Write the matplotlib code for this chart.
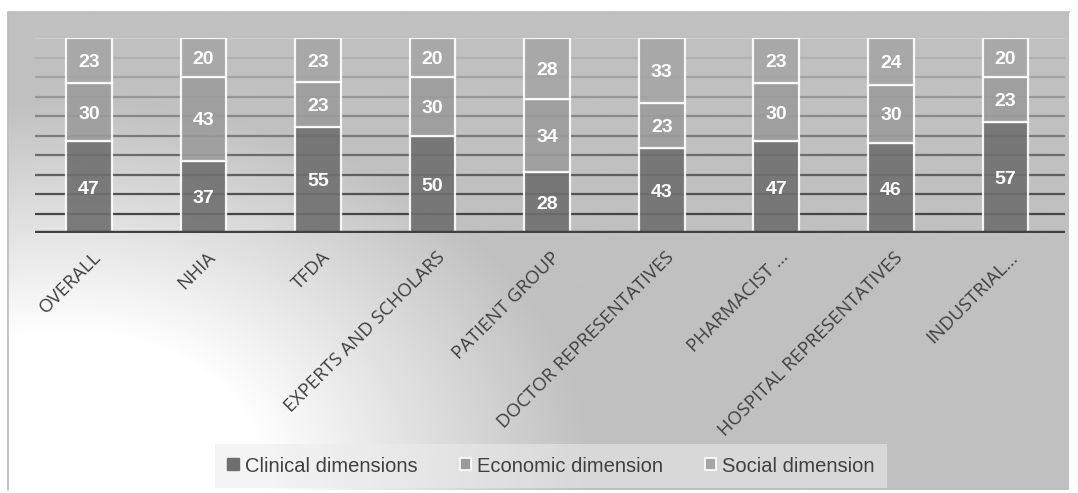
import numpy as np
import matplotlib.pyplot as plt
import matplotlib.transforms as mtransforms
from matplotlib.patches import Patch

# data (raw labels, bars are drawn as 100% stacked)
groups = ["OVERALL", "NHIA", "TFDA", "EXPERTS AND SCHOLARS", "PATIENT GROUP",
          "DOCTOR REPRESENTATIVES", "PHARMACIST ...", "HOSPITAL REPRESENTATIVES",
          "INDUSTRIAL..."]
clinical = [47, 37, 55, 50, 28, 43, 47, 46, 57]
economic = [30, 43, 23, 30, 34, 23, 30, 30, 23]
social = [23, 20, 23, 20, 28, 33, 23, 24, 20]
series_names = ["Clinical dimensions", "Economic dimension", "Social dimension"]
colores = ["#6f6f6f", "#9c9c9c", "#a6a6a6"]

W, H = 1078, 493
fig = plt.figure(figsize=(W / 100, H / 100), dpi=100)

# background: white figure, chart area with a soft radial gradient
bg = fig.add_axes([0, 0, 1, 1], zorder=-10)
bg.set_xlim(0, W)
bg.set_ylim(H, 0)
bg.axis("off")
yy, xx = np.mgrid[0:H, 0:W]
d = np.sqrt(((xx - 60) / 560.0) ** 2 + ((yy - 470) / 400.0) ** 2)
t = np.clip((d - 0.35) / 0.6, 0, 1)
val = 1.0 - t * (1.0 - 0xc0 / 255.0)
img = np.dstack([val, val, val])
bg.imshow(img, extent=(8, 1069, 490, 12), aspect="auto", interpolation="bilinear")
bg.plot([8, 8, 1069], [490, 12, 12], color="#bdbdbd", lw=1.2)

ax = fig.add_axes([35 / W, (H - 233) / H, (1065 - 35) / W, (233 - 38) / H])
ax.set_facecolor("none")
x = np.arange(len(groups))
ax.set_xlim(-0.47, 8.52)
ax.set_ylim(0, 100)

# gridlines, darker near the base
for k, g in enumerate(range(10, 101, 10)):
    c = 0.27 + 0.42 * (k / 8.0)
    if g == 100:
        c = 0.80
    ax.axhline(g, color=(c, c, c), lw=1.6, zorder=1)

data = np.array([clinical, economic, social], dtype=float)
pct = data / data.sum(axis=0) * 100

bottoms = np.zeros(len(groups))
for vals, heights, col, name in zip(data, pct, colores, series_names):
    ax.bar(x, heights, width=0.4, bottom=bottoms, color=col, edgecolor="white",
           linewidth=1.6, alpha=0.9, zorder=2, label=name)
    for xi, b, h, v in zip(x, bottoms, heights, vals):
        ax.text(xi, b + h / 2 - 1, str(int(v)), ha="center", va="center", color="white",
                fontsize=14, fontweight="bold", family="Liberation Sans", zorder=4)
    bottoms = bottoms + heights

ax.axhline(0, color="#404040", lw=3.2, zorder=3)

for s in ax.spines.values():
    s.set_visible(False)
ax.set_yticks([])
ax.set_xticks(x)
ax.set_xticklabels(groups, rotation=45, ha="right", va="top", rotation_mode="anchor",
                   fontsize=13.5, color="#404040", family="Open Sans")
ax.tick_params(axis="x", length=0, pad=11)
shift = mtransforms.ScaledTranslation(3 / 100, 0, fig.dpi_scale_trans)
for lab in ax.get_xticklabels():
    lab.set_transform(lab.get_transform() + shift)

handles = [Patch(facecolor=colores[0], edgecolor=colores[0]),
           Patch(facecolor=colores[1], edgecolor="white", linewidth=1.2),
           Patch(facecolor=colores[2], edgecolor="white", linewidth=1.2)]
leg = fig.legend(handles, series_names, loc="center", bbox_to_anchor=(551 / W, 1 - 466 / H),
                 ncol=3, frameon=True, fancybox=False, handlelength=0.55, handleheight=0.55,
                 handletextpad=0.3, columnspacing=2.1, borderpad=0.6, borderaxespad=0,
                 prop={"family": "Liberation Sans", "size": 14.5})
leg.get_frame().set_facecolor("#ececec")
leg.get_frame().set_alpha(0.55)
leg.get_frame().set_edgecolor("none")
for tx in leg.get_texts():
    tx.set_color("#404040")

fig.savefig("out.png", dpi=100)
